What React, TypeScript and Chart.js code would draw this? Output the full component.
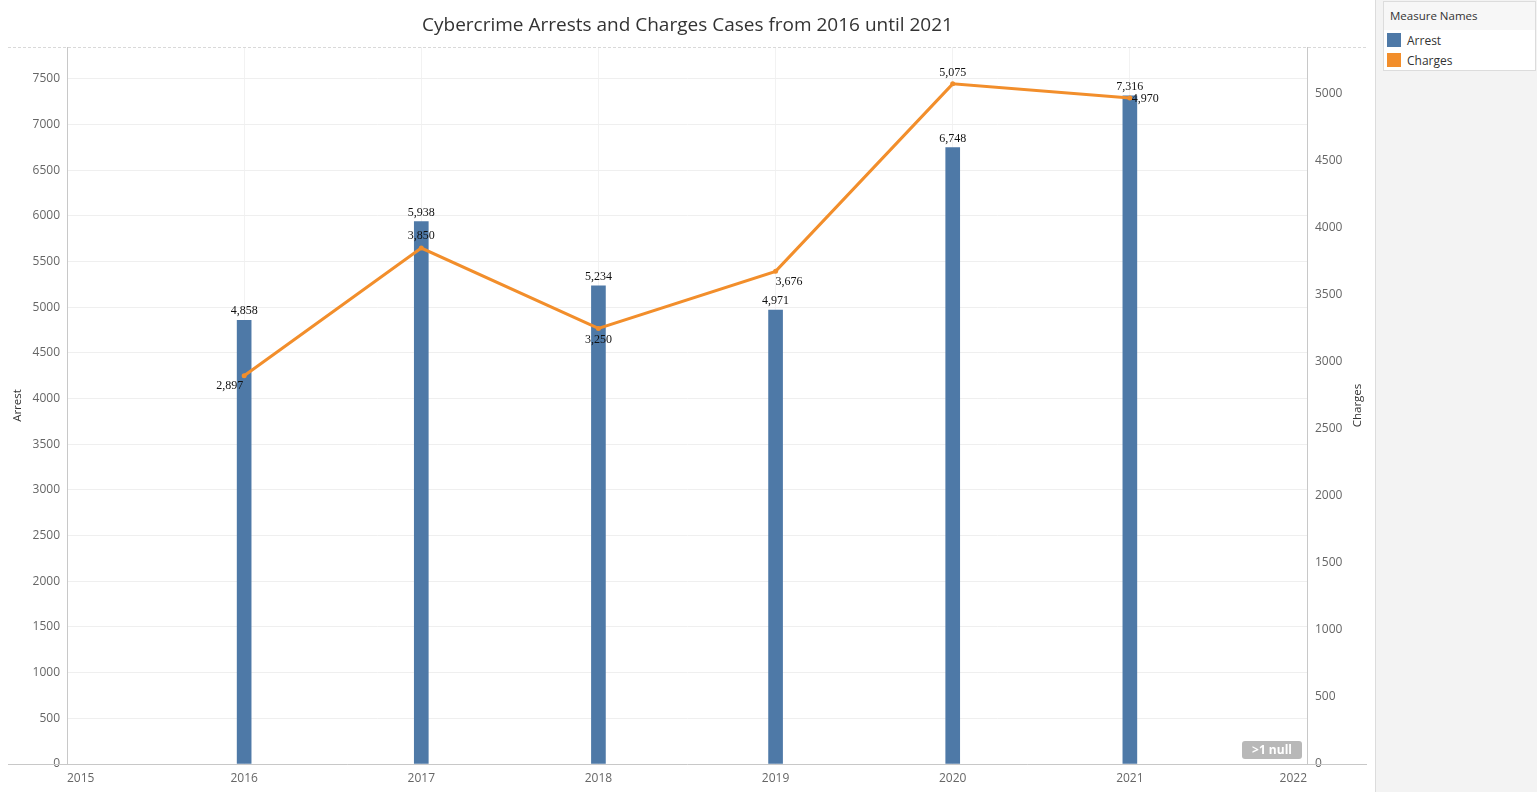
import { useEffect, useRef } from 'react';
import { Chart, registerables } from 'chart.js';

Chart.register(...registerables);

// data
const years = ['2015', '2016', '2017', '2018', '2019', '2020', '2021', '2022'];
const arrests = [null, 4858, 5938, 5234, 4971, 6748, 7316, null];
const charges = [null, 2897, 3850, 3250, 3676, 5075, 4970, null];

// axis ticks
const arrestTicks = [0, 500, 1000, 1500, 2000, 2500, 3000, 3500, 4000, 4500, 5000, 5500, 6000, 6500, 7000, 7500];
const chargeTicks = [0, 500, 1000, 1500, 2000, 2500, 3000, 3500, 4000, 4500, 5000];

const BLUE = '#4E79A7';
const ORANGE = '#F28E2B';

// where each charges label sits relative to its point
const chargeLabelPos = [
  null,
  { align: 'right', dx: -1, dy: 10 },
  { align: 'center', dx: 0, dy: -12 },
  { align: 'center', dx: 0, dy: 11 },
  { align: 'left', dx: 0, dy: 10 },
  { align: 'center', dx: 0, dy: -11 },
  { align: 'left', dx: 2, dy: 1 },
  null,
];

const fmt = (v: number) => v.toLocaleString('en-US');

const valueLabels = {
  id: 'valueLabels',
  afterDatasetsDraw(chart: any) {
    const ctx = chart.ctx;
    ctx.save();
    ctx.font = '12px "Liberation Serif", "DejaVu Serif", serif';
    ctx.fillStyle = '#111';

    // bar labels, centered above each bar
    const bars = chart.getDatasetMeta(0).data;
    bars.forEach((bar: any, i: number) => {
      const v = arrests[i];
      if (v == null) return;
      ctx.textAlign = 'center';
      ctx.textBaseline = 'bottom';
      ctx.fillText(fmt(v), bar.x, bar.y - 3);
    });

    // line labels
    const pts = chart.getDatasetMeta(1).data;
    pts.forEach((pt: any, i: number) => {
      const v = charges[i];
      const pos = chargeLabelPos[i];
      if (v == null || !pos) return;
      ctx.textAlign = pos.align;
      ctx.textBaseline = 'middle';
      ctx.fillText(fmt(v), pt.x + pos.dx, pt.y + pos.dy);
    });
    ctx.restore();
  },
};

// outer frame lines that run past the plot area like Tableau's panes,
// plus the right axis title which reads bottom-to-top
const frameLines = {
  id: 'frameLines',
  beforeDatasetsDraw(chart: any) {
    const { ctx, chartArea } = chart;
    const left = 8;
    const right = chart.width - 8;
    ctx.save();
    ctx.lineWidth = 1;
    ctx.strokeStyle = '#d9d9d9';
    ctx.setLineDash([3, 2]);
    ctx.beginPath();
    ctx.moveTo(left, chartArea.top + 0.5);
    ctx.lineTo(right, chartArea.top + 0.5);
    ctx.stroke();
    ctx.setLineDash([]);
    ctx.strokeStyle = '#c8c8c8';
    ctx.beginPath();
    ctx.moveTo(left, chartArea.bottom + 0.5);
    ctx.lineTo(right, chartArea.bottom + 0.5);
    ctx.stroke();

    ctx.translate(chartArea.right + 51, (chartArea.top + chartArea.bottom) / 2);
    ctx.rotate(-Math.PI / 2);
    ctx.fillStyle = '#333';
    ctx.font = '11.5px "Open Sans", sans-serif';
    ctx.textAlign = 'center';
    ctx.textBaseline = 'middle';
    ctx.fillText('Charges', 0, 0);
    ctx.restore();
  },
};

const tickFont = { family: '"Open Sans", "Noto Sans", sans-serif', size: 12 };
const plain = (v: any) => String(v);

export default function App() {
  const canvasRef = useRef<HTMLCanvasElement>(null);

  useEffect(() => {
    if (!canvasRef.current) return;
    const chart = new Chart(canvasRef.current, {
      type: 'bar',
      data: {
        labels: years,
        datasets: [
          {
            type: 'bar',
            label: 'Arrest',
            data: arrests,
            backgroundColor: BLUE,
            barThickness: 14,
            yAxisID: 'y',
            order: 2,
          },
          {
            type: 'line',
            label: 'Charges',
            data: charges,
            borderColor: ORANGE,
            backgroundColor: ORANGE,
            borderWidth: 3,
            pointRadius: 2.5,
            pointBorderWidth: 0,
            tension: 0,
            yAxisID: 'y1',
            order: 1,
          },
        ] as any,
      },
      options: {
        responsive: false,
        animation: false,
        layout: { padding: { left: 8, right: 8, bottom: 0, top: 0 } },
        plugins: {
          legend: { display: false },
          tooltip: { enabled: false },
          title: {
            display: true,
            text: 'Cybercrime Arrests and Charges Cases from 2016 until 2021',
            color: '#333',
            font: { family: '"Open Sans", "Noto Sans", sans-serif', size: 19, weight: 'normal' },
            padding: { top: 14, bottom: 10.2 },
          },
        },
        scales: {
          x: {
            type: 'category',
            offset: false,
            grid: { color: '#f2f2f2', offset: false, drawTicks: false },
            border: { display: false },
            ticks: { color: '#666', font: tickFont, padding: 7, align: 'inner', maxRotation: 0 },
            afterFit: (s: any) => { s.height = 28; },
          },
          y: {
            position: 'left',
            min: 0,
            max: 7850,
            grid: { color: '#efefef', drawTicks: false },
            border: { display: true, color: '#c8c8c8' },
            ticks: { callback: plain, color: '#666', font: tickFont, padding: 7 },
            afterBuildTicks: (s: any) => { s.ticks = arrestTicks.map((value) => ({ value })); },
            title: { display: true, text: 'Arrest', color: '#333', font: { family: '"Open Sans", sans-serif', size: 11.5 }, padding: 3 },
            afterFit: (s: any) => { s.width = 59; },
          },
          y1: {
            position: 'right',
            min: 0,
            max: 5350,
            grid: { display: false, drawTicks: false },
            border: { display: true, color: '#c8c8c8' },
            ticks: { callback: plain, color: '#666', font: tickFont, padding: 8 },
            afterBuildTicks: (s: any) => { s.ticks = chargeTicks.map((value) => ({ value })); },
            afterFit: (s: any) => { s.width = 60; },
          },
        },
      } as any,
      plugins: [frameLines, valueLabels],
    });
    return () => chart.destroy();
  }, []);

  return (
    <div style={{ position: 'absolute', left: 0, top: 0, width: 1537, height: 792, background: '#fff', fontFamily: '"Open Sans", sans-serif' }}>
      <canvas ref={canvasRef} width={1375} height={792} style={{ position: 'absolute', left: 0, top: 0 }} />
      <div style={{ position: 'absolute', left: 1242, top: 741, width: 60, height: 18, background: '#b8b8b8', borderRadius: 3, color: '#fff', fontWeight: 'bold', fontSize: 12, lineHeight: '18px', textAlign: 'center' }}>
        &gt;1 null
      </div>
      {/* legend pane */}
      <div style={{ position: 'absolute', left: 1375, top: 0, width: 162, height: 792, background: '#f3f3f3', borderLeft: '1px solid #dcdcdc', boxSizing: 'border-box' }}>
        <div style={{ position: 'absolute', left: 7, top: 1, width: 153, height: 70, background: '#fff', border: '1px solid #dcdcdc', boxSizing: 'border-box', fontSize: 12, color: '#333' }}>
          <div style={{ height: 28, lineHeight: '28px', paddingLeft: 6, fontSize: 11.5, background: '#f7f7f7' }}>Measure Names</div>
          <div style={{ display: 'flex', alignItems: 'center', height: 20, paddingLeft: 3 }}>
            <span style={{ width: 14, height: 14, background: BLUE, marginRight: 6 }} />
            <span>Arrest</span>
          </div>
          <div style={{ display: 'flex', alignItems: 'center', height: 20, paddingLeft: 3 }}>
            <span style={{ width: 14, height: 14, background: ORANGE, marginRight: 6 }} />
            <span>Charges</span>
          </div>
        </div>
      </div>
    </div>
  );
}
